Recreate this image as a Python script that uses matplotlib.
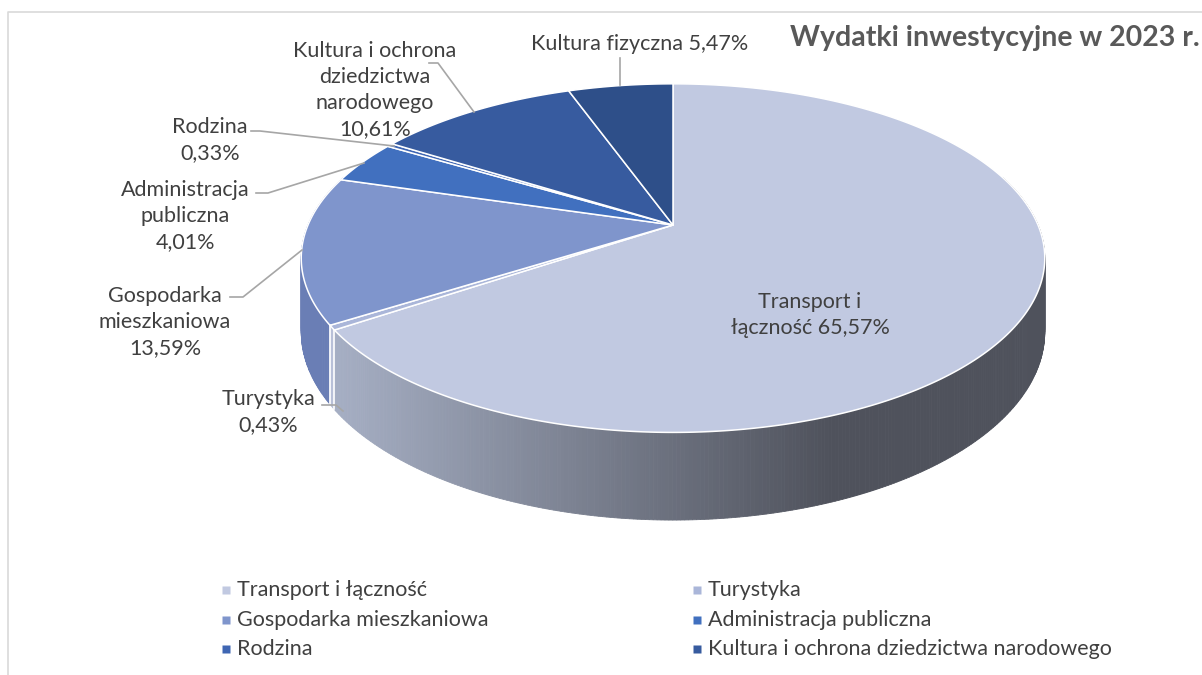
import numpy as np
import matplotlib.pyplot as plt
from matplotlib.patches import Polygon

# --- data -------------------------------------------------------------
categories = ["Transport i łączność", "Turystyka", "Gospodarka mieszkaniowa",
              "Administracja publiczna", "Rodzina",
              "Kultura i ochrona dziedzictwa narodowego", "Kultura fizyczna"]
label_names = ["Transport i\nłączność", "Turystyka", "Gospodarka\nmieszkaniowa",
               "Administracja\npubliczna", "Rodzina",
               "Kultura i ochrona\ndziedzictwa\nnarodowego", "Kultura fizyczna"]
shares = [65.57, 0.43, 13.59, 4.01, 0.33, 10.61, 5.47]

top_colors = ["#C1C9E1", "#AAB6D9", "#7F95CC", "#4170BF", "#3F66B3", "#375B9F", "#2E4F89"]
side_colors = ["#A5AEC3", "#B8C0D8", "#6A7EB5", "#3760A6", "#355A9E", "#2F4E8A", "#274374"]
side_dark = "#4F525C"

# label centre (px), separator before the value, leader polyline (px)
label_pos = [(810, 315), (268, 412), (165, 322), (185, 216), (210, 140), (375, 90), (640, 44)]
label_sep = [" ", "\n", "\n", "\n", "\n", "\n", " "]
leaders = [None,
           [(322, 405), (336, 405), (343, 411)],
           [(230, 297), (243, 297), (302, 250)],
           [(256, 193), (268, 193), (364, 163)],
           [(251, 131), (260, 131), (394, 146)],
           [(429, 63), (438, 63), (474, 112)],
           [(620, 58), (620, 85)]]

# --- projection of the tilted disc (perspective) ----------------------
CX, CY = 673, 225
A, B, K, D = 365, 168, 0.19, 71


def proj(theta, drop=0.0):
    t = np.radians(theta)
    u, v = np.sin(t), np.cos(t)
    w = 1 + K * v
    return CX + A * u / w, CY - B * v / w + drop / w


plt.rcParams["font.family"] = ["Lato", "DejaVu Sans"]
fig = plt.figure(figsize=(12.02, 6.75), dpi=100)
ax = fig.add_axes([0, 0, 1, 1])
ax.set_xlim(0, 1202)
ax.set_ylim(675, 0)
ax.axis("off")

# chart border
ax.plot([8, 8, 1202], [675, 12, 12], color="#D9D9D9", lw=1.2)

total = sum(shares)
bounds = np.concatenate([[0], np.cumsum(shares) / total * 360])

lo_rgb = np.array(plt.matplotlib.colors.to_rgb(side_colors[0]))
hi_rgb = np.array(plt.matplotlib.colors.to_rgb(side_dark))

# side strips, painted back to front
strips = []
for i in range(len(shares)):
    a0, a1 = bounds[i], bounds[i + 1]
    n = max(2, int((a1 - a0) / 0.5))
    angs = np.linspace(a0, a1, n + 1)
    for s0, s1 in zip(angs[:-1], angs[1:]):
        mid = 0.5 * (s0 + s1)
        if np.cos(np.radians(mid)) > 0.3:
            continue
        x0, y0 = proj(s0)
        x1, y1 = proj(s1)
        bx1, by1 = proj(s1, D)
        bx0, by0 = proj(s0, D)
        if i == 0:
            t = np.clip((0.5 * (x0 + x1) - 340) / (830 - 340), 0, 1)
            col = lo_rgb * (1 - t) + hi_rgb * t
        else:
            col = side_colors[i]
        strips.append((np.cos(np.radians(mid)),
                       [(x0, y0), (x1, y1), (bx1, by1), (bx0, by0)], col))
strips.sort(key=lambda s: -s[0])
for _, pts, col in strips:
    ax.add_patch(Polygon(pts, closed=True, facecolor=col, edgecolor=col, lw=0.6))

# white seams on the side at slice boundaries (front only)
for b in bounds[1:-1]:
    if np.cos(np.radians(b)) < 0:
        x0, y0 = proj(b)
        x1, y1 = proj(b, D)
        ax.plot([x0, x1], [y0, y1], color="white", lw=1.2)

# top faces
for i in range(len(shares)):
    angs = np.linspace(bounds[i], bounds[i + 1], max(3, int((bounds[i + 1] - bounds[i]) * 2)))
    pts = [(CX, CY)] + [proj(a) for a in angs]
    ax.add_patch(Polygon(pts, closed=True, facecolor=top_colors[i],
                         edgecolor="white", lw=1.1, joinstyle="round"))

# data labels and leader lines
for i in range(len(shares)):
    txt = label_names[i] + label_sep[i] + f"{shares[i]:.2f}%".replace(".", ",")
    ax.text(*label_pos[i], txt, ha="center", va="center", fontsize=15.5,
            color="#404040", linespacing=1.38)
    if leaders[i]:
        xs, ys = zip(*leaders[i])
        ax.plot(xs, ys, color="#A6A6A6", lw=1.2)

ax.text(790, 38, "Wydatki inwestycyjne w 2023 r.", ha="left", va="center",
        fontsize=20.5, fontweight="bold", color="#595959")

# legend, filled row by row as in the original (last entry falls off the canvas)
for i, name in enumerate(categories[:6]):
    row, col = divmod(i, 2)
    mx = (226, 697)[col]
    y = 590 + row * 29.5
    ax.plot(mx, y, marker="s", ms=6, color=top_colors[i], mec="none")
    ax.text(mx + 11, y, name, ha="left", va="center", fontsize=15.5, color="#404040")

fig.savefig("out.png", dpi=100)
